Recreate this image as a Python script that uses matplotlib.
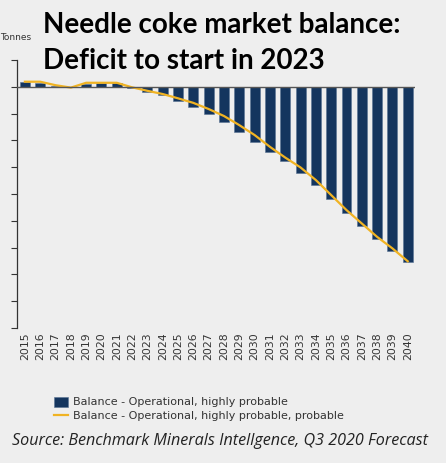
import matplotlib
matplotlib.use('Agg')
import matplotlib.pyplot as plt
import numpy as np

years = [str(y) for y in range(2015, 2041)]
# balance, in y-tick units (axis has no numbers)
balance_hp = [0.18, 0.13, 0.03, -0.02, 0.12, 0.13, 0.13, -0.06, -0.19, -0.31,
              -0.52, -0.75, -1.03, -1.31, -1.68, -2.05, -2.43, -2.77, -3.20, -3.68,
              -4.19, -4.72, -5.20, -5.69, -6.14, -6.54]
balance_hpp = [0.19, 0.19, 0.06, -0.03, 0.15, 0.15, 0.15, -0.02, -0.15, -0.27,
               -0.43, -0.60, -0.83, -1.09, -1.43, -1.80, -2.24, -2.64, -3.01, -3.48,
               -4.04, -4.60, -5.10, -5.60, -6.03, -6.51]

bg = '#eeeeee'
fig = plt.figure(figsize=(4.46, 4.63), dpi=100, facecolor=bg)
ax = fig.add_axes([0.038, 0.2916, 0.892, 0.5788], facecolor=bg)

x = np.arange(len(years))
bars = ax.bar(x, balance_hp, width=0.65, color='#14355e', edgecolor='#5a7394', linewidth=0.4,
              zorder=2)
line, = ax.plot(x, balance_hpp, color='#f0b323', lw=1.6, zorder=3)
ax.axhline(0, color='#555555', lw=1.0, zorder=4)

ax.set_xlim(-0.52, len(years) - 0.54)
ax.set_ylim(-9, 1)
ax.set_yticks(range(-9, 2))
ax.set_yticklabels([])
ax.set_xticks(x)
ax.set_xticklabels(years, rotation=90, fontsize=7.8, color='#333333')
ax.tick_params(axis='x', length=0, pad=3)
ax.tick_params(axis='y', length=4, width=0.8, color='#333333')
for s in ['top', 'right', 'bottom']:
    ax.spines[s].set_visible(False)
ax.spines['left'].set_color('#333333')
ax.spines['left'].set_linewidth(0.9)

fig.text(0.0, 0.918, 'Tonnes', fontsize=6.5, color='#333333', ha='left', va='center')
fig.text(0.097, 0.945, 'Needle coke market balance:', fontsize=20, fontweight='bold',
         family='Lato', ha='left', va='center', color='black')
fig.text(0.097, 0.868, 'Deficit to start in 2023', fontsize=20, fontweight='bold',
         family='Lato', ha='left', va='center', color='black')

fig.legend([bars, line],
           ['Balance - Operational, highly probable',
            'Balance - Operational, highly probable, probable'],
           loc='upper left', bbox_to_anchor=(0.112, 0.153), frameon=False,
           fontsize=8, handlelength=1.2, handleheight=1.0, handletextpad=0.5,
           labelspacing=0.25, borderaxespad=0, labelcolor='#333333')

fig.text(0.028, 0.047, 'Source: Benchmark Minerals Intellgence, Q3 2020 Forecast',
         fontsize=11.6, style='italic', family='Open Sans', color='#222222',
         ha='left', va='center')

fig.savefig('out.png', dpi=100, facecolor=bg)
